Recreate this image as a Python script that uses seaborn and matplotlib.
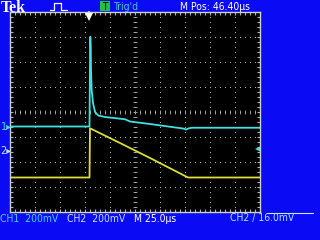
import numpy as np
import pandas as pd
import seaborn as sns
import matplotlib
matplotlib.use("Agg")
import matplotlib.pyplot as plt
from matplotlib.lines import Line2D
from matplotlib.patches import Rectangle

# ---- data (time in µs relative to trigger, volts) ----
ch1_t = [-78.6, 0.9, 1.4, 1.7, 2.2, 2.4, 3.1, 4.4, 6.4, 9.7, 16.4, 36.4, 41.4, 61.4, 81.4, 94.4, 97.4, 100.4, 103.4, 171.4]
ch1_v = [0.0, 0.0, 0.532, 0.718, 0.612, 0.452, 0.292, 0.188, 0.116, 0.088, 0.076, 0.058, 0.040, 0.020, -0.002, -0.016, -0.024, -0.014, -0.010, -0.010]
ch2_t = [-78.6, 0.9, 1.4, 3.4, 31.4, 61.4, 99.4, 171.4]
ch2_v = [-0.216, -0.216, 0.178, 0.170, 0.060, -0.060, -0.216, -0.216]

volts_per_div = 0.2
ch1_offset_div = -0.58
ch2_offset_div = -1.54
m_pos = 46.40
time_per_div = 25.0
trig_level = 0.016

top_labels = ["Tek", "Trig'd", "M Pos: 46.40µs"]
bottom_labels = ["CH1  200mV", "CH2  200mV", "M 25.0µs", "CH2 / 16.0mV"]

sns.set_theme(style="dark")
plt.rcParams['font.family'] = ['DejaVu Sans']
NARROW = dict(family=['DejaVu Sans'], fontstretch='condensed')

W, H = 320, 240
fig = plt.figure(figsize=(3.2, 2.4), dpi=100)
fig.patch.set_facecolor('#0a0af5')

ax = fig.add_axes([10 / W, (H - 212) / H, 250 / W, 200 / H])
ax.set_facecolor('black')
x0 = m_pos - 5 * time_per_div
x1 = m_pos + 5 * time_per_div
ax.set_xlim(x0, x1)
ax.set_ylim(-4, 4)

df1 = pd.DataFrame({'t': ch1_t, 'div': np.array(ch1_v) / volts_per_div + ch1_offset_div})
df2 = pd.DataFrame({'t': ch2_t, 'div': np.array(ch2_v) / volts_per_div + ch2_offset_div})

grid_c = '#b0b0b0'
# dotted graticule
minor_x = x0 + np.arange(0, 51) * time_per_div / 5
minor_y = -4 + np.arange(0, 41) * 0.2
for k in range(1, 10):
    xv = x0 + k * time_per_div
    ax.plot(np.full_like(minor_y, xv), minor_y, linestyle='none', marker='s', markersize=0.7,
            color=grid_c, markeredgewidth=0)
for j in range(-3, 4):
    ax.plot(minor_x, np.full_like(minor_x, j), linestyle='none', marker='s', markersize=0.7,
            color=grid_c, markeredgewidth=0)
# center cross ticks
cx = x0 + 5 * time_per_div
ax.plot(minor_x, np.zeros_like(minor_x), linestyle='none', marker='|', markersize=3,
        markeredgewidth=0.6, color=grid_c)
ax.plot(np.full_like(minor_y, cx), minor_y, linestyle='none', marker='_', markersize=3,
        markeredgewidth=0.6, color=grid_c)

sns.lineplot(data=df2, x='t', y='div', ax=ax, color='#dcdc3c', linewidth=1.3,
             estimator=None, sort=False)
sns.lineplot(data=df1, x='t', y='div', ax=ax, color='#40e0e0', linewidth=1.3,
             estimator=None, sort=False)

# border ticks
ax.set_xticks(minor_x[1:-1], minor=True)
ax.set_yticks(minor_y[1:-1], minor=True)
ax.set_xticks([])
ax.set_yticks([])
ax.tick_params(which='minor', direction='in', length=2.5, width=0.8, color=grid_c,
               top=True, bottom=True, left=True, right=True,
               labelbottom=False, labelleft=False)
ax.set_xlabel('')
ax.set_ylabel('')
for s in ax.spines.values():
    s.set_visible(True)
    s.set_color('#d0d0d0')
    s.set_linewidth(1.0)

# trigger position marker (top) and trigger level marker (right)
ax.plot([0.4], [3.8], marker='v', markersize=6, color='white', clip_on=False, markeredgewidth=0)
ax.plot([0.4, 0.4], [3.85, 4.0], color='white', linewidth=1.5, clip_on=False)
ax.plot([x1 - 2.5], [trig_level / volts_per_div + ch2_offset_div], marker='<', markersize=5,
        color='#40e0e0', markeredgewidth=0, clip_on=False)

def px(x, y):
    return x / W, 1 - y / H

# channel ground markers
fig.text(*px(0.5, 130.5), '1▸', color='#40e0e0', fontsize=7, family=['DejaVu Sans'])
fig.text(*px(0.5, 154.5), '2▸', color='#c8dcff', fontsize=7, family=['DejaVu Sans'])

# top bar
fig.text(*px(1, 12), top_labels[0], color='white', fontsize=11.5, fontweight='bold',
         family=['Liberation Serif', 'DejaVu Serif'])
pulse = Line2D([50 / W, 54 / W, 54 / W, 61 / W, 61 / W, 67 / W],
               [1 - 10 / H, 1 - 10 / H, 1 - 3 / H, 1 - 3 / H, 1 - 10 / H, 1 - 10 / H],
               color='white', linewidth=0.9, transform=fig.transFigure)
fig.add_artist(pulse)
fig.add_artist(Rectangle((100 / W, 1 - 10.5 / H), 10 / W, 9.5 / H, transform=fig.transFigure,
                         facecolor='#20c040', edgecolor='none'))
fig.text(*px(102, 9.5), 'T', color='black', fontsize=7, **NARROW)
fig.text(*px(113, 9.5), top_labels[1], color='#40c8c8', fontsize=7.5, **NARROW)
fig.text(*px(180, 9.5), top_labels[2], color='white', fontsize=7.5, **NARROW)

# bottom bar
fig.text(*px(0, 221.5), bottom_labels[0], color='#40d0ff', fontsize=7.5, **NARROW)
fig.text(*px(67, 221.5), bottom_labels[1], color='#c8dcff', fontsize=7.5, **NARROW)
fig.text(*px(134, 221.5), bottom_labels[2], color='white', fontsize=7.5, **NARROW)
fig.text(*px(230, 221.5), bottom_labels[3], color='#a8e4ff', fontsize=7.5, **NARROW)
fig.add_artist(Line2D([267 / W, 313 / W], [1 - 213 / H, 1 - 213 / H], color='#d0e0ff',
                      linewidth=0.8, transform=fig.transFigure))

fig.savefig('out.png', dpi=100, facecolor=fig.get_facecolor())
